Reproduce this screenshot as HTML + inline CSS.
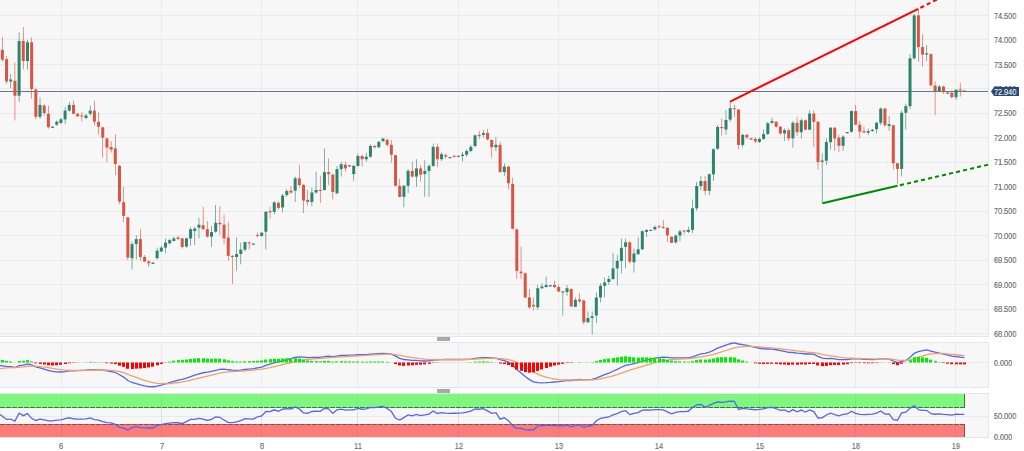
<!DOCTYPE html><html><head><meta charset="utf-8"><style>
html,body{margin:0;padding:0;background:#fff;width:1024px;height:451px;overflow:hidden}
#c{position:relative;width:1024px;height:451px;font-family:"Liberation Sans",sans-serif}
.l{position:absolute;font-size:8.5px;line-height:8.5px;color:#636363;white-space:nowrap;transform:scaleX(0.86);transform-origin:0 0;will-change:transform;-webkit-text-stroke:0.15px #636363}
svg{position:absolute;left:0;top:0}
</style></head><body><div id="c">
<svg width="1024" height="451" viewBox="0 0 1024 451" shape-rendering="crispEdges"><rect x="0" y="0" width="1024" height="451" fill="#ffffff"/>
<rect x="0" y="0" width="988" height="336" fill="#f7f7f7"/>
<rect x="0" y="342" width="988" height="45" fill="#f7f7f7"/>
<rect x="0" y="393" width="988" height="44" fill="#f7f7f7"/>
<rect x="61" y="0" width="1" height="336" fill="#eaeaea"/>
<rect x="161" y="0" width="1" height="336" fill="#eaeaea"/>
<rect x="261" y="0" width="1" height="336" fill="#eaeaea"/>
<rect x="357" y="0" width="1" height="336" fill="#eaeaea"/>
<rect x="458" y="0" width="1" height="336" fill="#eaeaea"/>
<rect x="558" y="0" width="1" height="336" fill="#eaeaea"/>
<rect x="658" y="0" width="1" height="336" fill="#eaeaea"/>
<rect x="759" y="0" width="1" height="336" fill="#eaeaea"/>
<rect x="855" y="0" width="1" height="336" fill="#eaeaea"/>
<rect x="955" y="0" width="1" height="336" fill="#eaeaea"/>
<rect x="61" y="342" width="1" height="45" fill="#eaeaea"/>
<rect x="161" y="342" width="1" height="45" fill="#eaeaea"/>
<rect x="261" y="342" width="1" height="45" fill="#eaeaea"/>
<rect x="357" y="342" width="1" height="45" fill="#eaeaea"/>
<rect x="458" y="342" width="1" height="45" fill="#eaeaea"/>
<rect x="558" y="342" width="1" height="45" fill="#eaeaea"/>
<rect x="658" y="342" width="1" height="45" fill="#eaeaea"/>
<rect x="759" y="342" width="1" height="45" fill="#eaeaea"/>
<rect x="855" y="342" width="1" height="45" fill="#eaeaea"/>
<rect x="955" y="342" width="1" height="45" fill="#eaeaea"/>
<rect x="61" y="393" width="1" height="44" fill="#eaeaea"/>
<rect x="161" y="393" width="1" height="44" fill="#eaeaea"/>
<rect x="261" y="393" width="1" height="44" fill="#eaeaea"/>
<rect x="357" y="393" width="1" height="44" fill="#eaeaea"/>
<rect x="458" y="393" width="1" height="44" fill="#eaeaea"/>
<rect x="558" y="393" width="1" height="44" fill="#eaeaea"/>
<rect x="658" y="393" width="1" height="44" fill="#eaeaea"/>
<rect x="759" y="393" width="1" height="44" fill="#eaeaea"/>
<rect x="855" y="393" width="1" height="44" fill="#eaeaea"/>
<rect x="955" y="393" width="1" height="44" fill="#eaeaea"/>
<rect x="0" y="15" width="988" height="1" fill="#eaeaea"/>
<rect x="0" y="39" width="988" height="1" fill="#eaeaea"/>
<rect x="0" y="64" width="988" height="1" fill="#eaeaea"/>
<rect x="0" y="88" width="988" height="1" fill="#eaeaea"/>
<rect x="0" y="113" width="988" height="1" fill="#eaeaea"/>
<rect x="0" y="137" width="988" height="1" fill="#eaeaea"/>
<rect x="0" y="162" width="988" height="1" fill="#eaeaea"/>
<rect x="0" y="186" width="988" height="1" fill="#eaeaea"/>
<rect x="0" y="211" width="988" height="1" fill="#eaeaea"/>
<rect x="0" y="235" width="988" height="1" fill="#eaeaea"/>
<rect x="0" y="260" width="988" height="1" fill="#eaeaea"/>
<rect x="0" y="284" width="988" height="1" fill="#eaeaea"/>
<rect x="0" y="309" width="988" height="1" fill="#eaeaea"/>
<rect x="0" y="333" width="988" height="1" fill="#eaeaea"/>
<rect x="0" y="362" width="988" height="1" fill="#eaeaea"/>
<rect x="0" y="416" width="988" height="1" fill="#eaeaea"/>
<rect x="0" y="336" width="989" height="1" fill="#e3e6ee"/>
<rect x="988" y="0" width="1" height="337" fill="#e3e6ee"/>
<rect x="0" y="342" width="989" height="1" fill="#e3e6ee"/>
<rect x="0" y="387" width="989" height="1" fill="#e3e6ee"/>
<rect x="988" y="342" width="1" height="46" fill="#e3e6ee"/>
<rect x="0" y="393" width="989" height="1" fill="#e3e6ee"/>
<rect x="0" y="437" width="989" height="1" fill="#e3e6ee"/>
<rect x="988" y="393" width="1" height="45" fill="#e3e6ee"/>
<rect x="437" y="337" width="13" height="4" rx="1" fill="#a9a9a9"/>
<rect x="437" y="389" width="13" height="4" rx="1" fill="#a9a9a9"/>
<rect x="0" y="91" width="988" height="1" fill="#62769a"/>
<g shape-rendering="geometricPrecision"><rect x="2.07" y="36.9" width="0.6" height="24.8" fill="#d85543"/><rect x="0.87" y="49.8" width="3" height="9.9" fill="#d85543"/><rect x="6.25" y="56.0" width="0.6" height="28.0" fill="#d85543"/><rect x="5.05" y="59.2" width="3" height="22.3" fill="#d85543"/><rect x="10.44" y="74.0" width="0.6" height="14.2" fill="#2d836c"/><rect x="9.24" y="79.5" width="3" height="2.0" fill="#2d836c"/><rect x="14.62" y="62.7" width="0.6" height="57.8" fill="#d85543"/><rect x="13.42" y="80.8" width="3" height="14.9" fill="#d85543"/><rect x="18.80" y="32.4" width="0.6" height="69.5" fill="#2d836c"/><rect x="17.60" y="41.1" width="3" height="54.6" fill="#2d836c"/><rect x="22.98" y="27.0" width="0.6" height="42.6" fill="#d85543"/><rect x="21.78" y="41.0" width="3" height="20.0" fill="#d85543"/><rect x="27.17" y="39.9" width="0.6" height="29.7" fill="#2d836c"/><rect x="25.97" y="42.3" width="3" height="18.7" fill="#2d836c"/><rect x="31.35" y="37.4" width="0.6" height="61.5" fill="#d85543"/><rect x="30.15" y="42.3" width="3" height="46.7" fill="#d85543"/><rect x="35.53" y="88.2" width="0.6" height="31.1" fill="#d85543"/><rect x="34.33" y="89.5" width="3" height="27.3" fill="#d85543"/><rect x="39.71" y="97.4" width="0.6" height="21.4" fill="#2d836c"/><rect x="38.51" y="104.9" width="3" height="11.9" fill="#2d836c"/><rect x="43.90" y="103.9" width="0.6" height="11.6" fill="#d85543"/><rect x="42.70" y="105.6" width="3" height="7.4" fill="#d85543"/><rect x="48.08" y="105.6" width="0.6" height="23.1" fill="#d85543"/><rect x="46.88" y="113.8" width="3" height="13.4" fill="#d85543"/><rect x="52.26" y="126.5" width="0.6" height="1.5" fill="#555555"/><rect x="51.06" y="126.7" width="3" height="1.0" fill="#555555"/><rect x="56.45" y="120.5" width="0.6" height="5.5" fill="#2d836c"/><rect x="55.25" y="121.7" width="3" height="3.0" fill="#2d836c"/><rect x="60.63" y="118.0" width="0.6" height="6.2" fill="#2d836c"/><rect x="59.43" y="119.3" width="3" height="3.7" fill="#2d836c"/><rect x="64.81" y="106.8" width="0.6" height="17.4" fill="#2d836c"/><rect x="63.61" y="110.6" width="3" height="8.7" fill="#2d836c"/><rect x="68.99" y="101.9" width="0.6" height="9.9" fill="#2d836c"/><rect x="67.79" y="104.9" width="3" height="5.7" fill="#2d836c"/><rect x="73.18" y="100.6" width="0.6" height="13.7" fill="#d85543"/><rect x="71.98" y="104.9" width="3" height="8.9" fill="#d85543"/><rect x="77.36" y="113.0" width="0.6" height="4.0" fill="#d85543"/><rect x="76.16" y="113.8" width="3" height="2.5" fill="#d85543"/><rect x="81.54" y="112.3" width="0.6" height="9.4" fill="#d85543"/><rect x="80.34" y="115.5" width="3" height="1.0" fill="#d85543"/><rect x="85.72" y="113.8" width="0.6" height="5.5" fill="#2d836c"/><rect x="84.52" y="115.5" width="3" height="2.5" fill="#2d836c"/><rect x="89.91" y="105.6" width="0.6" height="9.9" fill="#2d836c"/><rect x="88.71" y="110.6" width="3" height="3.2" fill="#2d836c"/><rect x="94.09" y="100.6" width="0.6" height="24.9" fill="#d85543"/><rect x="92.89" y="110.6" width="3" height="11.1" fill="#d85543"/><rect x="98.27" y="112.4" width="0.6" height="22.3" fill="#d85543"/><rect x="97.07" y="121.8" width="3" height="5.0" fill="#d85543"/><rect x="102.45" y="126.8" width="0.6" height="30.8" fill="#d85543"/><rect x="101.25" y="127.3" width="3" height="10.4" fill="#d85543"/><rect x="106.64" y="137.2" width="0.6" height="24.8" fill="#d85543"/><rect x="105.44" y="138.5" width="3" height="9.1" fill="#d85543"/><rect x="110.82" y="141.0" width="0.6" height="11.6" fill="#d85543"/><rect x="109.62" y="147.1" width="3" height="2.5" fill="#d85543"/><rect x="115.00" y="134.2" width="0.6" height="40.8" fill="#d85543"/><rect x="113.80" y="148.4" width="3" height="15.6" fill="#d85543"/><rect x="119.19" y="165.0" width="0.6" height="39.0" fill="#d85543"/><rect x="117.99" y="165.8" width="3" height="35.7" fill="#d85543"/><rect x="123.37" y="186.8" width="0.6" height="35.5" fill="#d85543"/><rect x="122.17" y="202.2" width="3" height="13.8" fill="#d85543"/><rect x="127.55" y="216.8" width="0.6" height="43.2" fill="#d85543"/><rect x="126.35" y="217.3" width="3" height="40.2" fill="#d85543"/><rect x="131.73" y="241.6" width="0.6" height="27.8" fill="#2d836c"/><rect x="130.53" y="244.1" width="3" height="14.1" fill="#2d836c"/><rect x="135.92" y="235.2" width="0.6" height="24.3" fill="#2d836c"/><rect x="134.72" y="239.1" width="3" height="5.0" fill="#2d836c"/><rect x="140.10" y="229.2" width="0.6" height="31.5" fill="#d85543"/><rect x="138.90" y="239.1" width="3" height="17.9" fill="#d85543"/><rect x="144.28" y="255.0" width="0.6" height="7.0" fill="#d85543"/><rect x="143.08" y="257.0" width="3" height="4.5" fill="#d85543"/><rect x="148.46" y="260.0" width="0.6" height="7.0" fill="#d85543"/><rect x="147.26" y="261.5" width="3" height="1.7" fill="#d85543"/><rect x="152.65" y="262.0" width="0.6" height="2.0" fill="#555555"/><rect x="151.45" y="262.7" width="3" height="1.0" fill="#555555"/><rect x="156.83" y="247.6" width="0.6" height="11.9" fill="#2d836c"/><rect x="155.63" y="250.8" width="3" height="7.4" fill="#2d836c"/><rect x="161.01" y="245.8" width="0.6" height="6.2" fill="#2d836c"/><rect x="159.81" y="247.6" width="3" height="3.9" fill="#2d836c"/><rect x="165.20" y="238.4" width="0.6" height="14.9" fill="#2d836c"/><rect x="164.00" y="242.6" width="3" height="5.0" fill="#2d836c"/><rect x="169.38" y="238.4" width="0.6" height="6.2" fill="#2d836c"/><rect x="168.18" y="240.1" width="3" height="3.2" fill="#2d836c"/><rect x="173.56" y="236.6" width="0.6" height="5.0" fill="#2d836c"/><rect x="172.36" y="238.4" width="3" height="2.5" fill="#2d836c"/><rect x="177.74" y="235.9" width="0.6" height="3.7" fill="#d85543"/><rect x="176.54" y="237.6" width="3" height="1.5" fill="#d85543"/><rect x="181.93" y="237.6" width="0.6" height="10.7" fill="#d85543"/><rect x="180.73" y="238.4" width="3" height="8.6" fill="#d85543"/><rect x="186.11" y="237.6" width="0.6" height="10.0" fill="#2d836c"/><rect x="184.91" y="238.4" width="3" height="8.2" fill="#2d836c"/><rect x="190.29" y="227.2" width="0.6" height="18.6" fill="#2d836c"/><rect x="189.09" y="229.2" width="3" height="9.2" fill="#2d836c"/><rect x="194.47" y="226.7" width="0.6" height="18.4" fill="#2d836c"/><rect x="193.27" y="228.5" width="3" height="2.5" fill="#2d836c"/><rect x="198.66" y="217.8" width="0.6" height="20.6" fill="#2d836c"/><rect x="197.46" y="224.7" width="3" height="3.0" fill="#2d836c"/><rect x="202.84" y="206.9" width="0.6" height="23.3" fill="#d85543"/><rect x="201.64" y="225.2" width="3" height="4.0" fill="#d85543"/><rect x="207.02" y="221.0" width="0.6" height="16.6" fill="#d85543"/><rect x="205.82" y="229.2" width="3" height="7.4" fill="#d85543"/><rect x="211.20" y="226.0" width="0.6" height="21.0" fill="#2d836c"/><rect x="210.00" y="232.2" width="3" height="4.4" fill="#2d836c"/><rect x="215.39" y="204.9" width="0.6" height="27.8" fill="#2d836c"/><rect x="214.19" y="222.8" width="3" height="8.9" fill="#2d836c"/><rect x="219.57" y="206.1" width="0.6" height="28.6" fill="#d85543"/><rect x="218.37" y="222.8" width="3" height="1.4" fill="#d85543"/><rect x="223.75" y="214.3" width="0.6" height="29.8" fill="#d85543"/><rect x="222.55" y="224.7" width="3" height="13.7" fill="#d85543"/><rect x="227.94" y="221.8" width="0.6" height="38.9" fill="#d85543"/><rect x="226.74" y="237.6" width="3" height="18.2" fill="#d85543"/><rect x="232.12" y="255.0" width="0.6" height="28.8" fill="#d85543"/><rect x="230.92" y="255.8" width="3" height="1.2" fill="#d85543"/><rect x="236.30" y="237.6" width="0.6" height="33.0" fill="#2d836c"/><rect x="235.10" y="254.0" width="3" height="3.0" fill="#2d836c"/><rect x="240.48" y="242.6" width="0.6" height="21.8" fill="#2d836c"/><rect x="239.28" y="249.6" width="3" height="4.4" fill="#2d836c"/><rect x="244.67" y="241.6" width="0.6" height="9.9" fill="#2d836c"/><rect x="243.47" y="242.1" width="3" height="7.5" fill="#2d836c"/><rect x="248.85" y="241.6" width="0.6" height="8.0" fill="#d85543"/><rect x="247.65" y="242.4" width="3" height="1.0" fill="#d85543"/><rect x="253.03" y="243.5" width="0.6" height="1.3" fill="#555555"/><rect x="251.83" y="243.6" width="3" height="1.0" fill="#555555"/><rect x="257.21" y="232.7" width="0.6" height="4.4" fill="#d85543"/><rect x="256.01" y="235.1" width="3" height="1.0" fill="#d85543"/><rect x="261.40" y="232.2" width="0.6" height="4.4" fill="#2d836c"/><rect x="260.20" y="232.7" width="3" height="3.2" fill="#2d836c"/><rect x="265.58" y="211.1" width="0.6" height="38.5" fill="#2d836c"/><rect x="264.38" y="211.8" width="3" height="19.9" fill="#2d836c"/><rect x="269.76" y="206.9" width="0.6" height="11.6" fill="#d85543"/><rect x="268.56" y="211.1" width="3" height="1.2" fill="#d85543"/><rect x="273.95" y="201.2" width="0.6" height="13.1" fill="#2d836c"/><rect x="272.75" y="202.4" width="3" height="9.4" fill="#2d836c"/><rect x="278.13" y="201.2" width="0.6" height="8.7" fill="#d85543"/><rect x="276.93" y="202.9" width="3" height="5.0" fill="#d85543"/><rect x="282.31" y="193.7" width="0.6" height="18.6" fill="#2d836c"/><rect x="281.11" y="195.5" width="3" height="11.9" fill="#2d836c"/><rect x="286.49" y="189.0" width="0.6" height="8.0" fill="#2d836c"/><rect x="285.29" y="191.0" width="3" height="4.0" fill="#2d836c"/><rect x="290.68" y="185.8" width="0.6" height="8.2" fill="#d85543"/><rect x="289.48" y="190.7" width="3" height="1.8" fill="#d85543"/><rect x="294.86" y="176.6" width="0.6" height="25.3" fill="#2d836c"/><rect x="293.66" y="178.3" width="3" height="12.4" fill="#2d836c"/><rect x="299.04" y="165.2" width="0.6" height="22.3" fill="#d85543"/><rect x="297.84" y="178.3" width="3" height="6.7" fill="#d85543"/><rect x="303.22" y="184.0" width="0.6" height="29.0" fill="#d85543"/><rect x="302.02" y="185.0" width="3" height="15.6" fill="#d85543"/><rect x="307.41" y="189.5" width="0.6" height="16.1" fill="#d85543"/><rect x="306.21" y="199.9" width="3" height="2.0" fill="#d85543"/><rect x="311.59" y="187.5" width="0.6" height="18.9" fill="#2d836c"/><rect x="310.39" y="192.5" width="3" height="9.4" fill="#2d836c"/><rect x="315.77" y="171.6" width="0.6" height="22.4" fill="#2d836c"/><rect x="314.57" y="190.0" width="3" height="2.5" fill="#2d836c"/><rect x="319.96" y="175.8" width="0.6" height="27.3" fill="#d85543"/><rect x="318.76" y="190.0" width="3" height="1.0" fill="#d85543"/><rect x="324.14" y="148.5" width="0.6" height="42.2" fill="#2d836c"/><rect x="322.94" y="172.1" width="3" height="17.9" fill="#2d836c"/><rect x="328.32" y="158.5" width="0.6" height="26.5" fill="#d85543"/><rect x="327.12" y="172.1" width="3" height="2.0" fill="#d85543"/><rect x="332.50" y="174.1" width="0.6" height="25.3" fill="#d85543"/><rect x="331.30" y="174.6" width="3" height="17.4" fill="#d85543"/><rect x="336.69" y="165.9" width="0.6" height="28.5" fill="#2d836c"/><rect x="335.49" y="169.1" width="3" height="24.1" fill="#2d836c"/><rect x="340.87" y="161.7" width="0.6" height="14.9" fill="#2d836c"/><rect x="339.67" y="164.2" width="3" height="4.9" fill="#2d836c"/><rect x="345.05" y="161.7" width="0.6" height="9.9" fill="#d85543"/><rect x="343.85" y="164.7" width="3" height="3.7" fill="#d85543"/><rect x="349.23" y="165.2" width="0.6" height="1.4" fill="#555555"/><rect x="348.03" y="165.4" width="3" height="1.0" fill="#555555"/><rect x="353.42" y="164.7" width="0.6" height="16.1" fill="#2d836c"/><rect x="352.22" y="165.9" width="3" height="8.2" fill="#2d836c"/><rect x="357.60" y="153.5" width="0.6" height="13.1" fill="#2d836c"/><rect x="356.40" y="156.0" width="3" height="9.9" fill="#2d836c"/><rect x="361.78" y="154.7" width="0.6" height="11.9" fill="#d85543"/><rect x="360.58" y="156.0" width="3" height="3.2" fill="#d85543"/><rect x="365.96" y="152.8" width="0.6" height="8.9" fill="#2d836c"/><rect x="364.76" y="156.7" width="3" height="2.5" fill="#2d836c"/><rect x="370.15" y="144.3" width="0.6" height="13.4" fill="#2d836c"/><rect x="368.95" y="146.0" width="3" height="10.7" fill="#2d836c"/><rect x="374.33" y="144.8" width="0.6" height="3.0" fill="#d85543"/><rect x="373.13" y="146.0" width="3" height="1.3" fill="#d85543"/><rect x="378.51" y="141.1" width="0.6" height="6.7" fill="#2d836c"/><rect x="377.31" y="141.8" width="3" height="5.5" fill="#2d836c"/><rect x="382.70" y="137.9" width="0.6" height="4.1" fill="#2d836c"/><rect x="381.50" y="138.6" width="3" height="2.5" fill="#2d836c"/><rect x="386.88" y="138.6" width="0.6" height="8.2" fill="#d85543"/><rect x="385.68" y="139.9" width="3" height="4.9" fill="#d85543"/><rect x="391.06" y="139.9" width="0.6" height="22.8" fill="#d85543"/><rect x="389.86" y="144.8" width="3" height="9.9" fill="#d85543"/><rect x="395.24" y="154.7" width="0.6" height="31.8" fill="#d85543"/><rect x="394.04" y="155.2" width="3" height="30.6" fill="#d85543"/><rect x="399.43" y="179.0" width="0.6" height="18.4" fill="#d85543"/><rect x="398.23" y="185.8" width="3" height="11.1" fill="#d85543"/><rect x="403.61" y="185.0" width="0.6" height="22.3" fill="#2d836c"/><rect x="402.41" y="185.8" width="3" height="11.1" fill="#2d836c"/><rect x="407.79" y="169.1" width="0.6" height="24.1" fill="#2d836c"/><rect x="406.59" y="170.9" width="3" height="14.9" fill="#2d836c"/><rect x="411.97" y="161.7" width="0.6" height="15.9" fill="#d85543"/><rect x="410.77" y="170.9" width="3" height="5.7" fill="#d85543"/><rect x="416.16" y="159.2" width="0.6" height="27.8" fill="#2d836c"/><rect x="414.96" y="168.4" width="3" height="8.2" fill="#2d836c"/><rect x="420.34" y="165.2" width="0.6" height="16.3" fill="#d85543"/><rect x="419.14" y="168.4" width="3" height="6.2" fill="#d85543"/><rect x="424.52" y="160.2" width="0.6" height="36.7" fill="#2d836c"/><rect x="423.32" y="170.9" width="3" height="3.2" fill="#2d836c"/><rect x="428.71" y="164.2" width="0.6" height="32.7" fill="#2d836c"/><rect x="427.51" y="165.9" width="3" height="5.0" fill="#2d836c"/><rect x="432.89" y="143.6" width="0.6" height="23.0" fill="#2d836c"/><rect x="431.69" y="146.8" width="3" height="19.1" fill="#2d836c"/><rect x="437.07" y="143.6" width="0.6" height="23.5" fill="#d85543"/><rect x="435.87" y="146.8" width="3" height="12.4" fill="#d85543"/><rect x="441.25" y="152.3" width="0.6" height="8.6" fill="#2d836c"/><rect x="440.05" y="154.2" width="3" height="5.0" fill="#2d836c"/><rect x="445.44" y="153.5" width="0.6" height="5.0" fill="#d85543"/><rect x="444.24" y="155.2" width="3" height="1.5" fill="#d85543"/><rect x="449.62" y="157.0" width="0.6" height="1.3" fill="#555555"/><rect x="448.42" y="157.2" width="3" height="1.0" fill="#555555"/><rect x="453.80" y="155.2" width="0.6" height="2.5" fill="#d85543"/><rect x="452.60" y="155.8" width="3" height="1.0" fill="#d85543"/><rect x="457.98" y="155.5" width="0.6" height="1.7" fill="#2d836c"/><rect x="456.78" y="155.8" width="3" height="1.0" fill="#2d836c"/><rect x="462.17" y="151.8" width="0.6" height="9.9" fill="#2d836c"/><rect x="460.97" y="154.7" width="3" height="1.3" fill="#2d836c"/><rect x="466.35" y="149.3" width="0.6" height="7.4" fill="#2d836c"/><rect x="465.15" y="151.0" width="3" height="3.7" fill="#2d836c"/><rect x="470.53" y="144.8" width="0.6" height="7.5" fill="#2d836c"/><rect x="469.33" y="146.8" width="3" height="4.2" fill="#2d836c"/><rect x="474.72" y="134.4" width="0.6" height="12.9" fill="#2d836c"/><rect x="473.52" y="135.4" width="3" height="10.6" fill="#2d836c"/><rect x="478.90" y="131.2" width="0.6" height="8.2" fill="#d85543"/><rect x="477.70" y="134.9" width="3" height="1.2" fill="#d85543"/><rect x="483.08" y="129.9" width="0.6" height="8.0" fill="#2d836c"/><rect x="481.88" y="132.9" width="3" height="2.0" fill="#2d836c"/><rect x="487.26" y="128.7" width="0.6" height="11.6" fill="#d85543"/><rect x="486.06" y="132.9" width="3" height="6.5" fill="#d85543"/><rect x="491.45" y="139.4" width="0.6" height="18.3" fill="#d85543"/><rect x="490.25" y="139.9" width="3" height="7.4" fill="#d85543"/><rect x="495.63" y="136.9" width="0.6" height="14.1" fill="#2d836c"/><rect x="494.43" y="144.8" width="3" height="2.5" fill="#2d836c"/><rect x="499.81" y="141.8" width="0.6" height="30.8" fill="#d85543"/><rect x="498.61" y="144.8" width="3" height="27.3" fill="#d85543"/><rect x="503.99" y="163.4" width="0.6" height="12.4" fill="#2d836c"/><rect x="502.79" y="166.6" width="3" height="5.5" fill="#2d836c"/><rect x="508.18" y="165.9" width="0.6" height="23.6" fill="#d85543"/><rect x="506.98" y="166.6" width="3" height="16.7" fill="#d85543"/><rect x="512.36" y="177.6" width="0.6" height="51.9" fill="#d85543"/><rect x="511.16" y="184.0" width="3" height="44.7" fill="#d85543"/><rect x="516.54" y="228.7" width="0.6" height="50.3" fill="#d85543"/><rect x="515.34" y="229.4" width="3" height="41.5" fill="#d85543"/><rect x="520.72" y="246.8" width="0.6" height="32.2" fill="#d85543"/><rect x="519.52" y="271.6" width="3" height="1.7" fill="#d85543"/><rect x="524.91" y="272.6" width="0.6" height="25.6" fill="#d85543"/><rect x="523.71" y="273.3" width="3" height="24.1" fill="#d85543"/><rect x="529.09" y="289.0" width="0.6" height="19.8" fill="#d85543"/><rect x="527.89" y="297.4" width="3" height="9.9" fill="#d85543"/><rect x="533.27" y="297.4" width="0.6" height="13.2" fill="#d85543"/><rect x="532.07" y="304.9" width="3" height="1.5" fill="#d85543"/><rect x="537.46" y="285.0" width="0.6" height="24.8" fill="#2d836c"/><rect x="536.26" y="288.2" width="3" height="19.1" fill="#2d836c"/><rect x="541.64" y="283.3" width="0.6" height="5.7" fill="#2d836c"/><rect x="540.44" y="286.5" width="3" height="1.7" fill="#2d836c"/><rect x="545.82" y="276.6" width="0.6" height="10.9" fill="#2d836c"/><rect x="544.62" y="285.0" width="3" height="2.0" fill="#2d836c"/><rect x="550.00" y="285.0" width="0.6" height="1.5" fill="#555555"/><rect x="548.80" y="285.3" width="3" height="1.0" fill="#555555"/><rect x="554.19" y="280.8" width="0.6" height="7.4" fill="#d85543"/><rect x="552.99" y="285.0" width="3" height="2.0" fill="#d85543"/><rect x="558.37" y="285.0" width="0.6" height="7.0" fill="#d85543"/><rect x="557.17" y="287.0" width="3" height="4.5" fill="#d85543"/><rect x="562.55" y="290.7" width="0.6" height="24.8" fill="#2d836c"/><rect x="561.35" y="291.5" width="3" height="1.0" fill="#2d836c"/><rect x="566.73" y="285.0" width="0.6" height="10.7" fill="#2d836c"/><rect x="565.53" y="288.2" width="3" height="3.8" fill="#2d836c"/><rect x="570.92" y="288.2" width="0.6" height="18.6" fill="#d85543"/><rect x="569.72" y="289.0" width="3" height="17.4" fill="#d85543"/><rect x="575.10" y="297.4" width="0.6" height="9.6" fill="#2d836c"/><rect x="573.90" y="299.9" width="3" height="6.9" fill="#2d836c"/><rect x="579.28" y="293.2" width="0.6" height="9.9" fill="#d85543"/><rect x="578.08" y="299.4" width="3" height="2.0" fill="#d85543"/><rect x="583.47" y="299.4" width="0.6" height="24.8" fill="#d85543"/><rect x="582.27" y="300.6" width="3" height="21.6" fill="#d85543"/><rect x="587.65" y="311.3" width="0.6" height="11.7" fill="#2d836c"/><rect x="586.45" y="318.0" width="3" height="4.2" fill="#2d836c"/><rect x="591.83" y="311.3" width="0.6" height="23.2" fill="#2d836c"/><rect x="590.63" y="316.3" width="3" height="1.7" fill="#2d836c"/><rect x="596.01" y="292.5" width="0.6" height="30.5" fill="#2d836c"/><rect x="594.81" y="297.4" width="3" height="18.1" fill="#2d836c"/><rect x="600.20" y="283.3" width="0.6" height="19.1" fill="#2d836c"/><rect x="599.00" y="285.8" width="3" height="11.6" fill="#2d836c"/><rect x="604.38" y="277.6" width="0.6" height="19.8" fill="#2d836c"/><rect x="603.18" y="282.5" width="3" height="3.3" fill="#2d836c"/><rect x="608.56" y="275.8" width="0.6" height="9.2" fill="#2d836c"/><rect x="607.36" y="279.0" width="3" height="3.0" fill="#2d836c"/><rect x="612.74" y="252.8" width="0.6" height="27.2" fill="#2d836c"/><rect x="611.54" y="268.4" width="3" height="10.6" fill="#2d836c"/><rect x="616.93" y="254.7" width="0.6" height="31.1" fill="#2d836c"/><rect x="615.73" y="260.9" width="3" height="7.5" fill="#2d836c"/><rect x="621.11" y="238.6" width="0.6" height="34.7" fill="#2d836c"/><rect x="619.91" y="247.8" width="3" height="13.1" fill="#2d836c"/><rect x="625.29" y="238.6" width="0.6" height="29.8" fill="#2d836c"/><rect x="624.09" y="242.3" width="3" height="4.5" fill="#2d836c"/><rect x="629.48" y="241.1" width="0.6" height="22.3" fill="#d85543"/><rect x="628.27" y="242.3" width="3" height="19.4" fill="#d85543"/><rect x="633.66" y="248.5" width="0.6" height="24.1" fill="#2d836c"/><rect x="632.46" y="253.5" width="3" height="8.7" fill="#2d836c"/><rect x="637.84" y="237.4" width="0.6" height="17.3" fill="#2d836c"/><rect x="636.64" y="249.3" width="3" height="4.9" fill="#2d836c"/><rect x="642.02" y="230.4" width="0.6" height="19.4" fill="#2d836c"/><rect x="640.82" y="231.2" width="3" height="18.1" fill="#2d836c"/><rect x="646.21" y="229.4" width="0.6" height="7.5" fill="#2d836c"/><rect x="645.01" y="229.9" width="3" height="2.0" fill="#2d836c"/><rect x="650.39" y="229.8" width="0.6" height="1.2" fill="#555555"/><rect x="649.19" y="229.9" width="3" height="1.0" fill="#555555"/><rect x="654.57" y="225.5" width="0.6" height="4.9" fill="#2d836c"/><rect x="653.37" y="226.9" width="3" height="2.5" fill="#2d836c"/><rect x="658.75" y="225.0" width="0.6" height="3.0" fill="#d85543"/><rect x="657.55" y="226.4" width="3" height="1.0" fill="#d85543"/><rect x="662.94" y="220.0" width="0.6" height="9.0" fill="#d85543"/><rect x="661.74" y="226.9" width="3" height="1.0" fill="#d85543"/><rect x="667.12" y="226.9" width="0.6" height="14.9" fill="#d85543"/><rect x="665.92" y="227.9" width="3" height="7.5" fill="#d85543"/><rect x="671.30" y="236.1" width="0.6" height="6.9" fill="#d85543"/><rect x="670.10" y="236.9" width="3" height="5.9" fill="#d85543"/><rect x="675.48" y="234.4" width="0.6" height="9.4" fill="#2d836c"/><rect x="674.28" y="235.6" width="3" height="6.7" fill="#2d836c"/><rect x="679.67" y="229.9" width="0.6" height="11.4" fill="#2d836c"/><rect x="678.47" y="231.4" width="3" height="4.2" fill="#2d836c"/><rect x="683.85" y="229.9" width="0.6" height="4.5" fill="#d85543"/><rect x="682.65" y="230.5" width="3" height="1.0" fill="#d85543"/><rect x="688.03" y="226.9" width="0.6" height="6.2" fill="#2d836c"/><rect x="686.83" y="229.9" width="3" height="2.0" fill="#2d836c"/><rect x="692.22" y="199.6" width="0.6" height="33.5" fill="#2d836c"/><rect x="691.02" y="208.3" width="3" height="21.6" fill="#2d836c"/><rect x="696.40" y="181.8" width="0.6" height="29.0" fill="#2d836c"/><rect x="695.20" y="186.0" width="3" height="22.3" fill="#2d836c"/><rect x="700.58" y="176.0" width="0.6" height="14.2" fill="#2d836c"/><rect x="699.38" y="181.0" width="3" height="5.0" fill="#2d836c"/><rect x="704.76" y="176.0" width="0.6" height="19.2" fill="#d85543"/><rect x="703.56" y="181.0" width="3" height="9.9" fill="#d85543"/><rect x="708.95" y="173.6" width="0.6" height="21.6" fill="#2d836c"/><rect x="707.75" y="174.3" width="3" height="16.6" fill="#2d836c"/><rect x="713.13" y="148.1" width="0.6" height="32.9" fill="#2d836c"/><rect x="711.93" y="149.3" width="3" height="25.0" fill="#2d836c"/><rect x="717.31" y="125.0" width="0.6" height="24.8" fill="#2d836c"/><rect x="716.11" y="127.0" width="3" height="21.8" fill="#2d836c"/><rect x="721.49" y="118.3" width="0.6" height="17.4" fill="#d85543"/><rect x="720.29" y="127.0" width="3" height="1.2" fill="#d85543"/><rect x="725.68" y="110.1" width="0.6" height="24.8" fill="#2d836c"/><rect x="724.48" y="120.0" width="3" height="9.5" fill="#2d836c"/><rect x="729.86" y="102.3" width="0.6" height="19.5" fill="#2d836c"/><rect x="728.66" y="108.2" width="3" height="11.4" fill="#2d836c"/><rect x="734.04" y="104.7" width="0.6" height="12.3" fill="#d85543"/><rect x="732.84" y="108.2" width="3" height="1.0" fill="#d85543"/><rect x="738.23" y="109.1" width="0.6" height="40.2" fill="#d85543"/><rect x="737.03" y="109.6" width="3" height="35.3" fill="#d85543"/><rect x="742.41" y="134.0" width="0.6" height="13.3" fill="#2d836c"/><rect x="741.21" y="134.9" width="3" height="10.0" fill="#2d836c"/><rect x="746.59" y="134.0" width="0.6" height="5.4" fill="#d85543"/><rect x="745.39" y="134.9" width="3" height="2.5" fill="#d85543"/><rect x="750.77" y="138.3" width="0.6" height="1.2" fill="#555555"/><rect x="749.57" y="138.4" width="3" height="1.0" fill="#555555"/><rect x="754.96" y="137.4" width="0.6" height="5.7" fill="#d85543"/><rect x="753.76" y="138.9" width="3" height="2.5" fill="#d85543"/><rect x="759.14" y="137.4" width="0.6" height="5.6" fill="#2d836c"/><rect x="757.94" y="138.9" width="3" height="3.0" fill="#2d836c"/><rect x="763.32" y="129.5" width="0.6" height="10.4" fill="#2d836c"/><rect x="762.12" y="134.0" width="3" height="4.9" fill="#2d836c"/><rect x="767.50" y="122.0" width="0.6" height="13.0" fill="#2d836c"/><rect x="766.30" y="123.3" width="3" height="10.7" fill="#2d836c"/><rect x="771.69" y="117.8" width="0.6" height="6.4" fill="#2d836c"/><rect x="770.49" y="121.0" width="3" height="1.8" fill="#2d836c"/><rect x="775.87" y="121.0" width="0.6" height="6.7" fill="#d85543"/><rect x="774.67" y="121.8" width="3" height="4.9" fill="#d85543"/><rect x="780.05" y="126.0" width="0.6" height="9.2" fill="#d85543"/><rect x="778.85" y="126.7" width="3" height="6.7" fill="#d85543"/><rect x="784.23" y="128.5" width="0.6" height="12.4" fill="#2d836c"/><rect x="783.03" y="130.2" width="3" height="3.2" fill="#2d836c"/><rect x="788.42" y="128.5" width="0.6" height="12.4" fill="#d85543"/><rect x="787.22" y="130.2" width="3" height="8.2" fill="#d85543"/><rect x="792.60" y="121.0" width="0.6" height="26.6" fill="#2d836c"/><rect x="791.40" y="122.8" width="3" height="15.6" fill="#2d836c"/><rect x="796.78" y="116.8" width="0.6" height="19.1" fill="#d85543"/><rect x="795.58" y="122.8" width="3" height="9.4" fill="#d85543"/><rect x="800.97" y="118.5" width="0.6" height="19.9" fill="#2d836c"/><rect x="799.77" y="120.3" width="3" height="11.9" fill="#2d836c"/><rect x="805.15" y="119.3" width="0.6" height="10.9" fill="#d85543"/><rect x="803.95" y="120.3" width="3" height="9.4" fill="#d85543"/><rect x="809.33" y="110.3" width="0.6" height="19.9" fill="#2d836c"/><rect x="808.13" y="113.6" width="3" height="16.1" fill="#2d836c"/><rect x="813.51" y="110.3" width="0.6" height="36.8" fill="#d85543"/><rect x="812.31" y="113.6" width="3" height="8.2" fill="#d85543"/><rect x="817.70" y="121.0" width="0.6" height="48.5" fill="#d85543"/><rect x="816.50" y="121.8" width="3" height="40.2" fill="#d85543"/><rect x="821.88" y="153.5" width="0.6" height="49.8" fill="#2d836c"/><rect x="820.68" y="160.5" width="3" height="1.3" fill="#2d836c"/><rect x="826.06" y="138.4" width="0.6" height="26.5" fill="#2d836c"/><rect x="824.86" y="142.1" width="3" height="18.6" fill="#2d836c"/><rect x="830.24" y="127.2" width="0.6" height="22.4" fill="#2d836c"/><rect x="829.04" y="127.7" width="3" height="14.4" fill="#2d836c"/><rect x="834.43" y="127.2" width="0.6" height="23.6" fill="#d85543"/><rect x="833.23" y="127.7" width="3" height="10.7" fill="#d85543"/><rect x="838.61" y="134.7" width="0.6" height="17.3" fill="#d85543"/><rect x="837.41" y="137.6" width="3" height="8.2" fill="#d85543"/><rect x="842.79" y="135.2" width="0.6" height="15.6" fill="#2d836c"/><rect x="841.59" y="136.7" width="3" height="9.1" fill="#2d836c"/><rect x="846.98" y="132.0" width="0.6" height="1.4" fill="#555555"/><rect x="845.78" y="132.2" width="3" height="1.0" fill="#555555"/><rect x="851.16" y="110.3" width="0.6" height="22.4" fill="#2d836c"/><rect x="849.96" y="111.1" width="3" height="20.6" fill="#2d836c"/><rect x="855.34" y="104.9" width="0.6" height="20.3" fill="#d85543"/><rect x="854.14" y="111.1" width="3" height="13.6" fill="#d85543"/><rect x="859.52" y="121.0" width="0.6" height="17.4" fill="#d85543"/><rect x="858.32" y="124.7" width="3" height="7.0" fill="#d85543"/><rect x="863.71" y="126.7" width="0.6" height="6.3" fill="#d85543"/><rect x="862.51" y="131.2" width="3" height="1.3" fill="#d85543"/><rect x="867.89" y="128.5" width="0.6" height="6.7" fill="#2d836c"/><rect x="866.69" y="131.0" width="3" height="1.7" fill="#2d836c"/><rect x="872.07" y="129.2" width="0.6" height="2.8" fill="#2d836c"/><rect x="870.87" y="129.7" width="3" height="1.3" fill="#2d836c"/><rect x="876.25" y="121.8" width="0.6" height="11.6" fill="#2d836c"/><rect x="875.05" y="122.8" width="3" height="6.4" fill="#2d836c"/><rect x="880.44" y="107.4" width="0.6" height="17.8" fill="#2d836c"/><rect x="879.24" y="108.6" width="3" height="14.2" fill="#2d836c"/><rect x="884.62" y="107.9" width="0.6" height="19.3" fill="#d85543"/><rect x="883.42" y="108.6" width="3" height="16.6" fill="#d85543"/><rect x="888.80" y="116.0" width="0.6" height="14.9" fill="#2d836c"/><rect x="887.60" y="124.2" width="3" height="1.8" fill="#2d836c"/><rect x="892.99" y="124.7" width="0.6" height="44.7" fill="#d85543"/><rect x="891.79" y="125.2" width="3" height="38.0" fill="#d85543"/><rect x="897.17" y="163.2" width="0.6" height="21.1" fill="#d85543"/><rect x="895.97" y="163.2" width="3" height="5.7" fill="#d85543"/><rect x="901.35" y="110.3" width="0.6" height="66.1" fill="#2d836c"/><rect x="900.15" y="112.8" width="3" height="56.1" fill="#2d836c"/><rect x="905.53" y="103.6" width="0.6" height="26.1" fill="#2d836c"/><rect x="904.33" y="106.1" width="3" height="6.7" fill="#2d836c"/><rect x="909.72" y="54.1" width="0.6" height="55.1" fill="#2d836c"/><rect x="908.52" y="58.3" width="3" height="47.8" fill="#2d836c"/><rect x="913.90" y="13.6" width="0.6" height="46.0" fill="#2d836c"/><rect x="912.70" y="15.4" width="3" height="42.9" fill="#2d836c"/><rect x="918.08" y="8.8" width="0.6" height="53.0" fill="#d85543"/><rect x="916.88" y="15.4" width="3" height="31.7" fill="#d85543"/><rect x="922.26" y="34.2" width="0.6" height="32.8" fill="#d85543"/><rect x="921.06" y="47.1" width="3" height="7.5" fill="#d85543"/><rect x="926.45" y="45.2" width="0.6" height="15.6" fill="#2d836c"/><rect x="925.25" y="53.3" width="3" height="1.3" fill="#2d836c"/><rect x="930.63" y="53.3" width="0.6" height="33.5" fill="#d85543"/><rect x="929.43" y="54.1" width="3" height="31.2" fill="#d85543"/><rect x="934.81" y="81.5" width="0.6" height="33.7" fill="#d85543"/><rect x="933.61" y="85.5" width="3" height="5.6" fill="#d85543"/><rect x="938.99" y="85.0" width="0.6" height="7.0" fill="#2d836c"/><rect x="937.79" y="86.6" width="3" height="4.5" fill="#2d836c"/><rect x="943.18" y="85.5" width="0.6" height="8.4" fill="#d85543"/><rect x="941.98" y="86.6" width="3" height="5.6" fill="#d85543"/><rect x="947.36" y="92.5" width="0.6" height="1.1" fill="#555555"/><rect x="946.16" y="92.6" width="3" height="1.0" fill="#555555"/><rect x="951.54" y="90.5" width="0.6" height="8.1" fill="#d85543"/><rect x="950.34" y="92.8" width="3" height="4.4" fill="#d85543"/><rect x="955.73" y="89.1" width="0.6" height="10.9" fill="#2d836c"/><rect x="954.53" y="89.8" width="3" height="7.4" fill="#2d836c"/><rect x="959.91" y="82.8" width="0.6" height="13.8" fill="#d85543"/><rect x="958.71" y="89.4" width="3" height="1.1" fill="#d85543"/><rect x="964.09" y="90.5" width="0.6" height="1.0" fill="#d85543"/><rect x="962.89" y="90.5" width="3" height="1.0" fill="#d85543"/></g>
<line x1="730.1" y1="101.7" x2="918.3" y2="8.8" stroke="#ff0000" stroke-width="2" shape-rendering="geometricPrecision"/>
<line x1="918.3" y1="8.8" x2="941.1273412271258" y2="-2.4681190223166602" stroke="#ff0000" stroke-width="2" stroke-dasharray="4.1 3.1" stroke-dashoffset="5" shape-rendering="geometricPrecision"/>
<line x1="822.5" y1="203.3" x2="897.5" y2="185.81506024096387" stroke="#008a00" stroke-width="2" shape-rendering="geometricPrecision"/>
<line x1="897.5" y1="185.81506024096387" x2="988" y2="164.71656626506024" stroke="#008a00" stroke-width="2" stroke-dasharray="4.1 3.1" stroke-dashoffset="4.7" shape-rendering="geometricPrecision"/>
<polyline points="0,365.47 2.37,365.78 6.55,366.32 10.74,366.61 14.92,367.50 19.10,365.73 23.28,365.19 27.47,363.91 31.65,364.95 35.83,366.96 40.01,367.96 44.20,369.04 48.38,370.43 52.56,371.44 56.75,371.88 60.93,372.01 65.11,371.63 69.29,370.97 73.48,370.75 77.66,370.59 81.84,370.38 86.02,370.09 90.21,369.56 94.39,369.55 98.57,369.68 102.75,370.19 106.94,370.93 111.12,371.51 115.30,372.49 119.49,374.79 123.67,377.10 127.85,380.57 132.03,382.49 136.22,383.54 140.40,384.92 144.58,385.94 148.76,386.55 152.95,386.75 157.13,386.09 161.31,385.16 165.50,383.95 169.68,382.65 173.86,381.33 178.04,380.11 182.23,379.30 186.41,378.09 190.59,376.57 194.77,375.18 198.96,373.78 203.14,372.76 207.32,372.16 211.50,371.39 215.69,370.27 219.87,369.37 224.05,369.21 228.24,369.77 232.42,370.18 236.60,370.29 240.78,370.09 244.97,369.51 249.15,369.03 253.33,368.62 257.51,367.87 261.70,367.07 265.88,365.48 270.06,364.22 274.25,362.77 278.43,361.88 282.61,360.65 286.79,359.50 290.98,358.70 295.16,357.49 299.34,356.90 303.52,357.19 307.71,357.53 311.89,357.44 316.07,357.31 320.26,357.32 324.44,356.55 328.62,356.11 332.80,356.62 336.99,356.08 341.17,355.51 345.35,355.34 349.53,355.17 353.72,355.12 357.90,354.73 362.08,354.65 366.26,354.57 370.45,354.13 374.63,353.93 378.81,353.64 383.00,353.36 387.18,353.53 391.36,354.19 395.54,356.18 399.73,358.30 403.91,359.51 408.09,359.85 412.27,360.39 416.46,360.47 420.64,360.84 424.82,360.98 429.01,360.89 433.19,359.99 437.37,359.87 441.55,359.58 445.74,359.49 449.92,359.51 454.10,359.51 458.28,359.51 462.47,359.49 466.65,359.35 470.83,359.08 475.02,358.42 479.20,357.97 483.38,357.53 487.56,357.53 491.75,357.93 495.93,358.19 500.11,359.64 504.29,360.57 508.48,362.06 512.66,365.23 516.84,369.53 521.02,372.94 525.21,376.54 529.39,379.64 533.57,381.84 537.76,382.54 541.94,382.78 546.12,382.68 550.30,382.40 554.49,382.01 558.67,381.67 562.85,381.20 567.03,380.46 571.22,380.49 575.40,380.01 579.58,379.51 583.77,379.84 587.95,379.71 592.13,379.34 596.31,378.02 600.50,376.31 604.68,374.66 608.86,373.08 613.04,371.25 617.23,369.39 621.41,367.27 625.59,365.32 629.77,364.61 633.96,363.67 638.14,362.74 642.32,361.20 646.51,359.96 650.69,359.04 654.87,358.20 659.05,357.61 663.24,357.23 667.42,357.32 671.60,357.78 675.78,357.88 679.97,357.82 684.15,357.83 688.33,357.82 692.52,356.92 696.70,355.29 700.88,353.88 705.06,353.31 709.25,352.24 713.43,350.41 717.61,348.14 721.79,346.57 725.98,345.17 730.16,343.74 734.34,342.88 738.53,344.00 742.71,344.66 746.89,345.48 751.07,346.39 755.26,347.39 759.44,348.24 763.62,348.85 767.80,349.01 771.99,349.19 776.17,349.74 780.35,350.60 784.53,351.28 788.72,352.29 792.90,352.52 797.08,353.22 801.27,353.36 805.45,353.98 809.63,353.86 813.81,354.22 818.00,356.37 822.18,358.06 826.36,358.62 830.54,358.47 834.73,358.87 838.91,359.55 843.09,359.72 847.28,359.70 851.46,358.77 855.64,358.68 859.82,358.97 864.01,359.26 868.19,359.47 872.37,359.60 876.55,359.44 880.74,358.72 884.92,358.93 889.10,359.10 893.29,360.98 897.47,362.72 901.65,361.62 905.83,360.46 910.02,357.48 914.20,353.31 918.38,351.54 922.56,350.62 926.75,349.97 930.93,351.01 935.11,352.21 939.29,353.07 943.48,354.10 947.66,355.05 951.84,356.05 956.03,356.58 960.21,357.10 964.39,357.59" fill="none" stroke="#5266f2" stroke-width="1.3" shape-rendering="geometricPrecision"/>
<polyline points="0,368.58 2.37,368.34 6.55,367.94 10.74,367.67 14.92,367.64 19.10,367.26 23.28,366.84 27.47,366.26 31.65,366.00 35.83,366.19 40.01,366.54 44.20,367.04 48.38,367.72 52.56,368.46 56.75,369.15 60.93,369.72 65.11,370.10 69.29,370.27 73.48,370.37 77.66,370.41 81.84,370.41 86.02,370.34 90.21,370.19 94.39,370.06 98.57,369.98 102.75,370.02 106.94,370.21 111.12,370.47 115.30,370.87 119.49,371.65 123.67,372.74 127.85,374.31 132.03,375.94 136.22,377.46 140.40,378.96 144.58,380.35 148.76,381.59 152.95,382.62 157.13,383.32 161.31,383.68 165.50,383.74 169.68,383.52 173.86,383.08 178.04,382.49 182.23,381.85 186.41,381.10 190.59,380.19 194.77,379.19 198.96,378.11 203.14,377.04 207.32,376.06 211.50,375.13 215.69,374.16 219.87,373.20 224.05,372.40 228.24,371.88 232.42,371.54 236.60,371.29 240.78,371.05 244.97,370.74 249.15,370.40 253.33,370.04 257.51,369.61 261.70,369.10 265.88,368.38 270.06,367.54 274.25,366.59 278.43,365.65 282.61,364.65 286.79,363.62 290.98,362.63 295.16,361.61 299.34,360.67 303.52,359.97 307.71,359.48 311.89,359.07 316.07,358.72 320.26,358.44 324.44,358.06 328.62,357.67 332.80,357.46 336.99,357.19 341.17,356.85 345.35,356.55 349.53,356.27 353.72,356.04 357.90,355.78 362.08,355.55 366.26,355.36 370.45,355.11 374.63,354.88 378.81,354.63 383.00,354.38 387.18,354.21 391.36,354.20 395.54,354.60 399.73,355.34 403.91,356.17 408.09,356.91 412.27,357.60 416.46,358.18 420.64,358.71 424.82,359.16 429.01,359.51 433.19,359.61 437.37,359.66 441.55,359.64 445.74,359.61 449.92,359.59 454.10,359.57 458.28,359.56 462.47,359.55 466.65,359.51 470.83,359.42 475.02,359.22 479.20,358.97 483.38,358.68 487.56,358.45 491.75,358.35 495.93,358.32 500.11,358.58 504.29,358.98 508.48,359.60 512.66,360.72 516.84,362.48 521.02,364.57 525.21,366.97 529.39,369.50 533.57,371.97 537.76,374.08 541.94,375.82 546.12,377.19 550.30,378.23 554.49,378.99 558.67,379.53 562.85,379.86 567.03,379.98 571.22,380.08 575.40,380.07 579.58,379.96 583.77,379.93 587.95,379.89 592.13,379.78 596.31,379.43 600.50,378.80 604.68,377.97 608.86,376.99 613.04,375.85 617.23,374.55 621.41,373.10 625.59,371.54 629.77,370.15 633.96,368.86 638.14,367.63 642.32,366.35 646.51,365.07 650.69,363.86 654.87,362.73 659.05,361.71 663.24,360.81 667.42,360.11 671.60,359.65 675.78,359.29 679.97,359.00 684.15,358.76 688.33,358.58 692.52,358.24 696.70,357.65 700.88,356.90 705.06,356.18 709.25,355.39 713.43,354.40 717.61,353.14 721.79,351.83 725.98,350.50 730.16,349.15 734.34,347.89 738.53,347.11 742.71,346.62 746.89,346.39 751.07,346.39 755.26,346.59 759.44,346.92 763.62,347.31 767.80,347.65 771.99,347.96 776.17,348.31 780.35,348.77 784.53,349.27 788.72,349.88 792.90,350.40 797.08,350.97 801.27,351.45 805.45,351.95 809.63,352.33 813.81,352.71 818.00,353.44 822.18,354.37 826.36,355.22 830.54,355.87 834.73,356.47 838.91,357.08 843.09,357.61 847.28,358.03 851.46,358.18 855.64,358.28 859.82,358.42 864.01,358.59 868.19,358.76 872.37,358.93 876.55,359.03 880.74,358.97 884.92,358.96 889.10,358.99 893.29,359.39 897.47,360.05 901.65,360.37 905.83,360.39 910.02,359.80 914.20,358.51 918.38,357.11 922.56,355.81 926.75,354.64 930.93,353.92 935.11,353.58 939.29,353.48 943.48,353.60 947.66,353.89 951.84,354.32 956.03,354.77 960.21,355.24 964.39,355.71" fill="none" stroke="#f5a066" stroke-width="1.3" shape-rendering="geometricPrecision"/>
<rect x="1" y="359.94" width="3" height="2.56" fill="#00ee00" shape-rendering="geometricPrecision"/>
<rect x="5" y="360.88" width="3" height="1.62" fill="#00ee00" shape-rendering="geometricPrecision"/>
<rect x="9" y="361.44" width="3" height="1.06" fill="#00ee00" shape-rendering="geometricPrecision"/>
<rect x="13" y="362.36" width="3" height="0.14" fill="#00ee00" shape-rendering="geometricPrecision"/>
<rect x="18" y="360.98" width="3" height="1.52" fill="#00ee00" shape-rendering="geometricPrecision"/>
<rect x="22" y="360.85" width="3" height="1.65" fill="#00ee00" shape-rendering="geometricPrecision"/>
<rect x="26" y="360.16" width="3" height="2.34" fill="#00ee00" shape-rendering="geometricPrecision"/>
<rect x="30" y="361.46" width="3" height="1.04" fill="#00ee00" shape-rendering="geometricPrecision"/>
<rect x="34" y="362.50" width="3" height="0.77" fill="#ff0000" shape-rendering="geometricPrecision"/>
<rect x="39" y="362.50" width="3" height="1.42" fill="#ff0000" shape-rendering="geometricPrecision"/>
<rect x="43" y="362.50" width="3" height="2.00" fill="#ff0000" shape-rendering="geometricPrecision"/>
<rect x="47" y="362.50" width="3" height="2.71" fill="#ff0000" shape-rendering="geometricPrecision"/>
<rect x="51" y="362.50" width="3" height="2.97" fill="#ff0000" shape-rendering="geometricPrecision"/>
<rect x="55" y="362.50" width="3" height="2.73" fill="#ff0000" shape-rendering="geometricPrecision"/>
<rect x="59" y="362.50" width="3" height="2.29" fill="#ff0000" shape-rendering="geometricPrecision"/>
<rect x="64" y="362.50" width="3" height="1.52" fill="#ff0000" shape-rendering="geometricPrecision"/>
<rect x="68" y="362.50" width="3" height="0.69" fill="#ff0000" shape-rendering="geometricPrecision"/>
<rect x="72" y="362.50" width="3" height="0.38" fill="#ff0000" shape-rendering="geometricPrecision"/>
<rect x="76" y="362.50" width="3" height="0.18" fill="#ff0000" shape-rendering="geometricPrecision"/>
<rect x="80" y="362.48" width="3" height="0.02" fill="#00ee00" shape-rendering="geometricPrecision"/>
<rect x="85" y="362.25" width="3" height="0.25" fill="#00ee00" shape-rendering="geometricPrecision"/>
<rect x="89" y="361.87" width="3" height="0.63" fill="#00ee00" shape-rendering="geometricPrecision"/>
<rect x="93" y="361.99" width="3" height="0.51" fill="#00ee00" shape-rendering="geometricPrecision"/>
<rect x="97" y="362.20" width="3" height="0.30" fill="#00ee00" shape-rendering="geometricPrecision"/>
<rect x="101" y="362.50" width="3" height="0.16" fill="#ff0000" shape-rendering="geometricPrecision"/>
<rect x="105" y="362.50" width="3" height="0.73" fill="#ff0000" shape-rendering="geometricPrecision"/>
<rect x="110" y="362.50" width="3" height="1.04" fill="#ff0000" shape-rendering="geometricPrecision"/>
<rect x="114" y="362.50" width="3" height="1.62" fill="#ff0000" shape-rendering="geometricPrecision"/>
<rect x="118" y="362.50" width="3" height="3.14" fill="#ff0000" shape-rendering="geometricPrecision"/>
<rect x="122" y="362.50" width="3" height="4.36" fill="#ff0000" shape-rendering="geometricPrecision"/>
<rect x="126" y="362.50" width="3" height="6.26" fill="#ff0000" shape-rendering="geometricPrecision"/>
<rect x="131" y="362.50" width="3" height="6.54" fill="#ff0000" shape-rendering="geometricPrecision"/>
<rect x="135" y="362.50" width="3" height="6.08" fill="#ff0000" shape-rendering="geometricPrecision"/>
<rect x="139" y="362.50" width="3" height="5.96" fill="#ff0000" shape-rendering="geometricPrecision"/>
<rect x="143" y="362.50" width="3" height="5.59" fill="#ff0000" shape-rendering="geometricPrecision"/>
<rect x="147" y="362.50" width="3" height="4.96" fill="#ff0000" shape-rendering="geometricPrecision"/>
<rect x="151" y="362.50" width="3" height="4.13" fill="#ff0000" shape-rendering="geometricPrecision"/>
<rect x="156" y="362.50" width="3" height="2.77" fill="#ff0000" shape-rendering="geometricPrecision"/>
<rect x="160" y="362.50" width="3" height="1.47" fill="#ff0000" shape-rendering="geometricPrecision"/>
<rect x="164" y="362.50" width="3" height="0.21" fill="#ff0000" shape-rendering="geometricPrecision"/>
<rect x="168" y="361.63" width="3" height="0.87" fill="#00ee00" shape-rendering="geometricPrecision"/>
<rect x="172" y="360.75" width="3" height="1.75" fill="#00ee00" shape-rendering="geometricPrecision"/>
<rect x="177" y="360.12" width="3" height="2.38" fill="#00ee00" shape-rendering="geometricPrecision"/>
<rect x="181" y="359.95" width="3" height="2.55" fill="#00ee00" shape-rendering="geometricPrecision"/>
<rect x="185" y="359.50" width="3" height="3.00" fill="#00ee00" shape-rendering="geometricPrecision"/>
<rect x="189" y="358.88" width="3" height="3.62" fill="#00ee00" shape-rendering="geometricPrecision"/>
<rect x="193" y="358.49" width="3" height="4.01" fill="#00ee00" shape-rendering="geometricPrecision"/>
<rect x="197" y="358.17" width="3" height="4.33" fill="#00ee00" shape-rendering="geometricPrecision"/>
<rect x="202" y="358.22" width="3" height="4.28" fill="#00ee00" shape-rendering="geometricPrecision"/>
<rect x="206" y="358.60" width="3" height="3.90" fill="#00ee00" shape-rendering="geometricPrecision"/>
<rect x="210" y="358.76" width="3" height="3.74" fill="#00ee00" shape-rendering="geometricPrecision"/>
<rect x="214" y="358.62" width="3" height="3.88" fill="#00ee00" shape-rendering="geometricPrecision"/>
<rect x="218" y="358.67" width="3" height="3.83" fill="#00ee00" shape-rendering="geometricPrecision"/>
<rect x="223" y="359.31" width="3" height="3.19" fill="#00ee00" shape-rendering="geometricPrecision"/>
<rect x="227" y="360.40" width="3" height="2.10" fill="#00ee00" shape-rendering="geometricPrecision"/>
<rect x="231" y="361.15" width="3" height="1.35" fill="#00ee00" shape-rendering="geometricPrecision"/>
<rect x="235" y="361.50" width="3" height="1.00" fill="#00ee00" shape-rendering="geometricPrecision"/>
<rect x="239" y="361.54" width="3" height="0.96" fill="#00ee00" shape-rendering="geometricPrecision"/>
<rect x="243" y="361.27" width="3" height="1.23" fill="#00ee00" shape-rendering="geometricPrecision"/>
<rect x="248" y="361.13" width="3" height="1.37" fill="#00ee00" shape-rendering="geometricPrecision"/>
<rect x="252" y="361.08" width="3" height="1.42" fill="#00ee00" shape-rendering="geometricPrecision"/>
<rect x="256" y="360.76" width="3" height="1.74" fill="#00ee00" shape-rendering="geometricPrecision"/>
<rect x="260" y="360.47" width="3" height="2.03" fill="#00ee00" shape-rendering="geometricPrecision"/>
<rect x="264" y="359.60" width="3" height="2.90" fill="#00ee00" shape-rendering="geometricPrecision"/>
<rect x="269" y="359.17" width="3" height="3.33" fill="#00ee00" shape-rendering="geometricPrecision"/>
<rect x="273" y="358.68" width="3" height="3.82" fill="#00ee00" shape-rendering="geometricPrecision"/>
<rect x="277" y="358.73" width="3" height="3.77" fill="#00ee00" shape-rendering="geometricPrecision"/>
<rect x="281" y="358.50" width="3" height="4.00" fill="#00ee00" shape-rendering="geometricPrecision"/>
<rect x="285" y="358.38" width="3" height="4.12" fill="#00ee00" shape-rendering="geometricPrecision"/>
<rect x="289" y="358.57" width="3" height="3.93" fill="#00ee00" shape-rendering="geometricPrecision"/>
<rect x="294" y="358.39" width="3" height="4.11" fill="#00ee00" shape-rendering="geometricPrecision"/>
<rect x="298" y="358.73" width="3" height="3.77" fill="#00ee00" shape-rendering="geometricPrecision"/>
<rect x="302" y="359.72" width="3" height="2.78" fill="#00ee00" shape-rendering="geometricPrecision"/>
<rect x="306" y="360.55" width="3" height="1.95" fill="#00ee00" shape-rendering="geometricPrecision"/>
<rect x="310" y="360.87" width="3" height="1.63" fill="#00ee00" shape-rendering="geometricPrecision"/>
<rect x="315" y="361.09" width="3" height="1.41" fill="#00ee00" shape-rendering="geometricPrecision"/>
<rect x="319" y="361.38" width="3" height="1.12" fill="#00ee00" shape-rendering="geometricPrecision"/>
<rect x="323" y="360.99" width="3" height="1.51" fill="#00ee00" shape-rendering="geometricPrecision"/>
<rect x="327" y="360.94" width="3" height="1.56" fill="#00ee00" shape-rendering="geometricPrecision"/>
<rect x="331" y="361.66" width="3" height="0.84" fill="#00ee00" shape-rendering="geometricPrecision"/>
<rect x="335" y="361.39" width="3" height="1.11" fill="#00ee00" shape-rendering="geometricPrecision"/>
<rect x="340" y="361.16" width="3" height="1.34" fill="#00ee00" shape-rendering="geometricPrecision"/>
<rect x="344" y="361.29" width="3" height="1.21" fill="#00ee00" shape-rendering="geometricPrecision"/>
<rect x="348" y="361.40" width="3" height="1.10" fill="#00ee00" shape-rendering="geometricPrecision"/>
<rect x="352" y="361.58" width="3" height="0.92" fill="#00ee00" shape-rendering="geometricPrecision"/>
<rect x="356" y="361.45" width="3" height="1.05" fill="#00ee00" shape-rendering="geometricPrecision"/>
<rect x="361" y="361.60" width="3" height="0.90" fill="#00ee00" shape-rendering="geometricPrecision"/>
<rect x="365" y="361.72" width="3" height="0.78" fill="#00ee00" shape-rendering="geometricPrecision"/>
<rect x="369" y="361.52" width="3" height="0.98" fill="#00ee00" shape-rendering="geometricPrecision"/>
<rect x="373" y="361.56" width="3" height="0.94" fill="#00ee00" shape-rendering="geometricPrecision"/>
<rect x="377" y="361.51" width="3" height="0.99" fill="#00ee00" shape-rendering="geometricPrecision"/>
<rect x="381" y="361.49" width="3" height="1.01" fill="#00ee00" shape-rendering="geometricPrecision"/>
<rect x="386" y="361.82" width="3" height="0.68" fill="#00ee00" shape-rendering="geometricPrecision"/>
<rect x="390" y="362.49" width="3" height="0.01" fill="#00ee00" shape-rendering="geometricPrecision"/>
<rect x="394" y="362.50" width="3" height="1.58" fill="#ff0000" shape-rendering="geometricPrecision"/>
<rect x="398" y="362.50" width="3" height="2.96" fill="#ff0000" shape-rendering="geometricPrecision"/>
<rect x="402" y="362.50" width="3" height="3.34" fill="#ff0000" shape-rendering="geometricPrecision"/>
<rect x="407" y="362.50" width="3" height="2.94" fill="#ff0000" shape-rendering="geometricPrecision"/>
<rect x="411" y="362.50" width="3" height="2.78" fill="#ff0000" shape-rendering="geometricPrecision"/>
<rect x="415" y="362.50" width="3" height="2.30" fill="#ff0000" shape-rendering="geometricPrecision"/>
<rect x="419" y="362.50" width="3" height="2.13" fill="#ff0000" shape-rendering="geometricPrecision"/>
<rect x="423" y="362.50" width="3" height="1.82" fill="#ff0000" shape-rendering="geometricPrecision"/>
<rect x="428" y="362.50" width="3" height="1.38" fill="#ff0000" shape-rendering="geometricPrecision"/>
<rect x="432" y="362.50" width="3" height="0.39" fill="#ff0000" shape-rendering="geometricPrecision"/>
<rect x="436" y="362.50" width="3" height="0.21" fill="#ff0000" shape-rendering="geometricPrecision"/>
<rect x="440" y="362.44" width="3" height="0.06" fill="#00ee00" shape-rendering="geometricPrecision"/>
<rect x="444" y="362.38" width="3" height="0.12" fill="#00ee00" shape-rendering="geometricPrecision"/>
<rect x="448" y="362.42" width="3" height="0.08" fill="#00ee00" shape-rendering="geometricPrecision"/>
<rect x="453" y="362.43" width="3" height="0.07" fill="#00ee00" shape-rendering="geometricPrecision"/>
<rect x="457" y="362.45" width="3" height="0.05" fill="#00ee00" shape-rendering="geometricPrecision"/>
<rect x="461" y="362.44" width="3" height="0.06" fill="#00ee00" shape-rendering="geometricPrecision"/>
<rect x="465" y="362.34" width="3" height="0.16" fill="#00ee00" shape-rendering="geometricPrecision"/>
<rect x="469" y="362.16" width="3" height="0.34" fill="#00ee00" shape-rendering="geometricPrecision"/>
<rect x="474" y="361.69" width="3" height="0.81" fill="#00ee00" shape-rendering="geometricPrecision"/>
<rect x="478" y="361.50" width="3" height="1.00" fill="#00ee00" shape-rendering="geometricPrecision"/>
<rect x="482" y="361.35" width="3" height="1.15" fill="#00ee00" shape-rendering="geometricPrecision"/>
<rect x="486" y="361.58" width="3" height="0.92" fill="#00ee00" shape-rendering="geometricPrecision"/>
<rect x="490" y="362.08" width="3" height="0.42" fill="#00ee00" shape-rendering="geometricPrecision"/>
<rect x="494" y="362.37" width="3" height="0.13" fill="#00ee00" shape-rendering="geometricPrecision"/>
<rect x="499" y="362.50" width="3" height="1.06" fill="#ff0000" shape-rendering="geometricPrecision"/>
<rect x="503" y="362.50" width="3" height="1.59" fill="#ff0000" shape-rendering="geometricPrecision"/>
<rect x="507" y="362.50" width="3" height="2.46" fill="#ff0000" shape-rendering="geometricPrecision"/>
<rect x="511" y="362.50" width="3" height="4.50" fill="#ff0000" shape-rendering="geometricPrecision"/>
<rect x="515" y="362.50" width="3" height="7.05" fill="#ff0000" shape-rendering="geometricPrecision"/>
<rect x="520" y="362.50" width="3" height="8.36" fill="#ff0000" shape-rendering="geometricPrecision"/>
<rect x="524" y="362.50" width="3" height="9.57" fill="#ff0000" shape-rendering="geometricPrecision"/>
<rect x="528" y="362.50" width="3" height="10.14" fill="#ff0000" shape-rendering="geometricPrecision"/>
<rect x="532" y="362.50" width="3" height="9.87" fill="#ff0000" shape-rendering="geometricPrecision"/>
<rect x="536" y="362.50" width="3" height="8.45" fill="#ff0000" shape-rendering="geometricPrecision"/>
<rect x="540" y="362.50" width="3" height="6.96" fill="#ff0000" shape-rendering="geometricPrecision"/>
<rect x="545" y="362.50" width="3" height="5.48" fill="#ff0000" shape-rendering="geometricPrecision"/>
<rect x="549" y="362.50" width="3" height="4.16" fill="#ff0000" shape-rendering="geometricPrecision"/>
<rect x="553" y="362.50" width="3" height="3.02" fill="#ff0000" shape-rendering="geometricPrecision"/>
<rect x="557" y="362.50" width="3" height="2.15" fill="#ff0000" shape-rendering="geometricPrecision"/>
<rect x="561" y="362.50" width="3" height="1.34" fill="#ff0000" shape-rendering="geometricPrecision"/>
<rect x="566" y="362.50" width="3" height="0.48" fill="#ff0000" shape-rendering="geometricPrecision"/>
<rect x="570" y="362.50" width="3" height="0.40" fill="#ff0000" shape-rendering="geometricPrecision"/>
<rect x="574" y="362.44" width="3" height="0.06" fill="#00ee00" shape-rendering="geometricPrecision"/>
<rect x="578" y="362.05" width="3" height="0.45" fill="#00ee00" shape-rendering="geometricPrecision"/>
<rect x="582" y="362.40" width="3" height="0.10" fill="#00ee00" shape-rendering="geometricPrecision"/>
<rect x="586" y="362.32" width="3" height="0.18" fill="#00ee00" shape-rendering="geometricPrecision"/>
<rect x="591" y="362.06" width="3" height="0.44" fill="#00ee00" shape-rendering="geometricPrecision"/>
<rect x="595" y="361.10" width="3" height="1.40" fill="#00ee00" shape-rendering="geometricPrecision"/>
<rect x="599" y="360.00" width="3" height="2.50" fill="#00ee00" shape-rendering="geometricPrecision"/>
<rect x="603" y="359.19" width="3" height="3.31" fill="#00ee00" shape-rendering="geometricPrecision"/>
<rect x="607" y="358.58" width="3" height="3.92" fill="#00ee00" shape-rendering="geometricPrecision"/>
<rect x="612" y="357.90" width="3" height="4.60" fill="#00ee00" shape-rendering="geometricPrecision"/>
<rect x="616" y="357.33" width="3" height="5.17" fill="#00ee00" shape-rendering="geometricPrecision"/>
<rect x="620" y="356.67" width="3" height="5.83" fill="#00ee00" shape-rendering="geometricPrecision"/>
<rect x="624" y="356.28" width="3" height="6.22" fill="#00ee00" shape-rendering="geometricPrecision"/>
<rect x="628" y="356.96" width="3" height="5.54" fill="#00ee00" shape-rendering="geometricPrecision"/>
<rect x="632" y="357.31" width="3" height="5.19" fill="#00ee00" shape-rendering="geometricPrecision"/>
<rect x="637" y="357.60" width="3" height="4.90" fill="#00ee00" shape-rendering="geometricPrecision"/>
<rect x="641" y="357.36" width="3" height="5.14" fill="#00ee00" shape-rendering="geometricPrecision"/>
<rect x="645" y="357.39" width="3" height="5.11" fill="#00ee00" shape-rendering="geometricPrecision"/>
<rect x="649" y="357.67" width="3" height="4.83" fill="#00ee00" shape-rendering="geometricPrecision"/>
<rect x="653" y="357.97" width="3" height="4.53" fill="#00ee00" shape-rendering="geometricPrecision"/>
<rect x="658" y="358.40" width="3" height="4.10" fill="#00ee00" shape-rendering="geometricPrecision"/>
<rect x="662" y="358.92" width="3" height="3.58" fill="#00ee00" shape-rendering="geometricPrecision"/>
<rect x="666" y="359.71" width="3" height="2.79" fill="#00ee00" shape-rendering="geometricPrecision"/>
<rect x="670" y="360.63" width="3" height="1.87" fill="#00ee00" shape-rendering="geometricPrecision"/>
<rect x="674" y="361.08" width="3" height="1.42" fill="#00ee00" shape-rendering="geometricPrecision"/>
<rect x="678" y="361.32" width="3" height="1.18" fill="#00ee00" shape-rendering="geometricPrecision"/>
<rect x="683" y="361.56" width="3" height="0.94" fill="#00ee00" shape-rendering="geometricPrecision"/>
<rect x="687" y="361.75" width="3" height="0.75" fill="#00ee00" shape-rendering="geometricPrecision"/>
<rect x="691" y="361.17" width="3" height="1.33" fill="#00ee00" shape-rendering="geometricPrecision"/>
<rect x="695" y="360.14" width="3" height="2.36" fill="#00ee00" shape-rendering="geometricPrecision"/>
<rect x="699" y="359.48" width="3" height="3.02" fill="#00ee00" shape-rendering="geometricPrecision"/>
<rect x="704" y="359.63" width="3" height="2.87" fill="#00ee00" shape-rendering="geometricPrecision"/>
<rect x="708" y="359.34" width="3" height="3.16" fill="#00ee00" shape-rendering="geometricPrecision"/>
<rect x="712" y="358.51" width="3" height="3.99" fill="#00ee00" shape-rendering="geometricPrecision"/>
<rect x="716" y="357.49" width="3" height="5.01" fill="#00ee00" shape-rendering="geometricPrecision"/>
<rect x="720" y="357.24" width="3" height="5.26" fill="#00ee00" shape-rendering="geometricPrecision"/>
<rect x="724" y="357.17" width="3" height="5.33" fill="#00ee00" shape-rendering="geometricPrecision"/>
<rect x="729" y="357.10" width="3" height="5.40" fill="#00ee00" shape-rendering="geometricPrecision"/>
<rect x="733" y="357.49" width="3" height="5.01" fill="#00ee00" shape-rendering="geometricPrecision"/>
<rect x="737" y="359.39" width="3" height="3.11" fill="#00ee00" shape-rendering="geometricPrecision"/>
<rect x="741" y="360.53" width="3" height="1.97" fill="#00ee00" shape-rendering="geometricPrecision"/>
<rect x="745" y="361.59" width="3" height="0.91" fill="#00ee00" shape-rendering="geometricPrecision"/>
<rect x="750" y="362.49" width="3" height="0.01" fill="#00ee00" shape-rendering="geometricPrecision"/>
<rect x="754" y="362.50" width="3" height="0.80" fill="#ff0000" shape-rendering="geometricPrecision"/>
<rect x="758" y="362.50" width="3" height="1.32" fill="#ff0000" shape-rendering="geometricPrecision"/>
<rect x="762" y="362.50" width="3" height="1.54" fill="#ff0000" shape-rendering="geometricPrecision"/>
<rect x="766" y="362.50" width="3" height="1.36" fill="#ff0000" shape-rendering="geometricPrecision"/>
<rect x="770" y="362.50" width="3" height="1.24" fill="#ff0000" shape-rendering="geometricPrecision"/>
<rect x="775" y="362.50" width="3" height="1.42" fill="#ff0000" shape-rendering="geometricPrecision"/>
<rect x="779" y="362.50" width="3" height="1.83" fill="#ff0000" shape-rendering="geometricPrecision"/>
<rect x="783" y="362.50" width="3" height="2.00" fill="#ff0000" shape-rendering="geometricPrecision"/>
<rect x="787" y="362.50" width="3" height="2.42" fill="#ff0000" shape-rendering="geometricPrecision"/>
<rect x="791" y="362.50" width="3" height="2.11" fill="#ff0000" shape-rendering="geometricPrecision"/>
<rect x="796" y="362.50" width="3" height="2.26" fill="#ff0000" shape-rendering="geometricPrecision"/>
<rect x="800" y="362.50" width="3" height="1.91" fill="#ff0000" shape-rendering="geometricPrecision"/>
<rect x="804" y="362.50" width="3" height="2.03" fill="#ff0000" shape-rendering="geometricPrecision"/>
<rect x="808" y="362.50" width="3" height="1.52" fill="#ff0000" shape-rendering="geometricPrecision"/>
<rect x="812" y="362.50" width="3" height="1.51" fill="#ff0000" shape-rendering="geometricPrecision"/>
<rect x="816" y="362.50" width="3" height="2.93" fill="#ff0000" shape-rendering="geometricPrecision"/>
<rect x="821" y="362.50" width="3" height="3.69" fill="#ff0000" shape-rendering="geometricPrecision"/>
<rect x="825" y="362.50" width="3" height="3.40" fill="#ff0000" shape-rendering="geometricPrecision"/>
<rect x="829" y="362.50" width="3" height="2.60" fill="#ff0000" shape-rendering="geometricPrecision"/>
<rect x="833" y="362.50" width="3" height="2.40" fill="#ff0000" shape-rendering="geometricPrecision"/>
<rect x="837" y="362.50" width="3" height="2.47" fill="#ff0000" shape-rendering="geometricPrecision"/>
<rect x="842" y="362.50" width="3" height="2.11" fill="#ff0000" shape-rendering="geometricPrecision"/>
<rect x="846" y="362.50" width="3" height="1.67" fill="#ff0000" shape-rendering="geometricPrecision"/>
<rect x="850" y="362.50" width="3" height="0.59" fill="#ff0000" shape-rendering="geometricPrecision"/>
<rect x="854" y="362.50" width="3" height="0.41" fill="#ff0000" shape-rendering="geometricPrecision"/>
<rect x="858" y="362.50" width="3" height="0.55" fill="#ff0000" shape-rendering="geometricPrecision"/>
<rect x="863" y="362.50" width="3" height="0.68" fill="#ff0000" shape-rendering="geometricPrecision"/>
<rect x="867" y="362.50" width="3" height="0.71" fill="#ff0000" shape-rendering="geometricPrecision"/>
<rect x="871" y="362.50" width="3" height="0.67" fill="#ff0000" shape-rendering="geometricPrecision"/>
<rect x="875" y="362.50" width="3" height="0.41" fill="#ff0000" shape-rendering="geometricPrecision"/>
<rect x="879" y="362.25" width="3" height="0.25" fill="#00ee00" shape-rendering="geometricPrecision"/>
<rect x="883" y="362.47" width="3" height="0.03" fill="#00ee00" shape-rendering="geometricPrecision"/>
<rect x="888" y="362.50" width="3" height="0.11" fill="#ff0000" shape-rendering="geometricPrecision"/>
<rect x="892" y="362.50" width="3" height="1.59" fill="#ff0000" shape-rendering="geometricPrecision"/>
<rect x="896" y="362.50" width="3" height="2.67" fill="#ff0000" shape-rendering="geometricPrecision"/>
<rect x="900" y="362.50" width="3" height="1.25" fill="#ff0000" shape-rendering="geometricPrecision"/>
<rect x="904" y="362.50" width="3" height="0.08" fill="#ff0000" shape-rendering="geometricPrecision"/>
<rect x="909" y="360.17" width="3" height="2.33" fill="#00ee00" shape-rendering="geometricPrecision"/>
<rect x="913" y="357.30" width="3" height="5.20" fill="#00ee00" shape-rendering="geometricPrecision"/>
<rect x="917" y="356.93" width="3" height="5.57" fill="#00ee00" shape-rendering="geometricPrecision"/>
<rect x="921" y="357.30" width="3" height="5.20" fill="#00ee00" shape-rendering="geometricPrecision"/>
<rect x="925" y="357.82" width="3" height="4.68" fill="#00ee00" shape-rendering="geometricPrecision"/>
<rect x="929" y="359.59" width="3" height="2.91" fill="#00ee00" shape-rendering="geometricPrecision"/>
<rect x="934" y="361.14" width="3" height="1.36" fill="#00ee00" shape-rendering="geometricPrecision"/>
<rect x="938" y="362.10" width="3" height="0.40" fill="#00ee00" shape-rendering="geometricPrecision"/>
<rect x="942" y="362.50" width="3" height="0.50" fill="#ff0000" shape-rendering="geometricPrecision"/>
<rect x="946" y="362.50" width="3" height="1.16" fill="#ff0000" shape-rendering="geometricPrecision"/>
<rect x="950" y="362.50" width="3" height="1.73" fill="#ff0000" shape-rendering="geometricPrecision"/>
<rect x="955" y="362.50" width="3" height="1.81" fill="#ff0000" shape-rendering="geometricPrecision"/>
<rect x="959" y="362.50" width="3" height="1.86" fill="#ff0000" shape-rendering="geometricPrecision"/>
<rect x="963" y="362.50" width="3" height="1.88" fill="#ff0000" shape-rendering="geometricPrecision"/>
<rect x="0" y="394" width="964" height="14" fill="#7ff77f"/>
<line x1="0" y1="407.5" x2="964" y2="407.5" stroke="#3a7a3a" stroke-width="1" stroke-dasharray="5 1"/>
<rect x="964" y="394" width="1" height="14" fill="#3a7a3a"/>
<rect x="0" y="424" width="964" height="13" fill="#fc7b7b"/>
<line x1="0" y1="424.5" x2="964" y2="424.5" stroke="#9e4545" stroke-width="1" stroke-dasharray="5 1"/>
<rect x="964" y="424" width="1" height="13" fill="#9e4545"/>
<rect x="61" y="394" width="1" height="43" fill="#000" opacity="0.05"/>
<rect x="161" y="394" width="1" height="43" fill="#000" opacity="0.05"/>
<rect x="261" y="394" width="1" height="43" fill="#000" opacity="0.05"/>
<rect x="357" y="394" width="1" height="43" fill="#000" opacity="0.05"/>
<rect x="458" y="394" width="1" height="43" fill="#000" opacity="0.05"/>
<rect x="558" y="394" width="1" height="43" fill="#000" opacity="0.05"/>
<rect x="658" y="394" width="1" height="43" fill="#000" opacity="0.05"/>
<rect x="759" y="394" width="1" height="43" fill="#000" opacity="0.05"/>
<rect x="855" y="394" width="1" height="43" fill="#000" opacity="0.05"/>
<rect x="955" y="394" width="1" height="43" fill="#000" opacity="0.05"/>
<rect x="0" y="437" width="989" height="1" fill="#e3e6ee"/>
<polyline points="0,414.45 2.37,416.31 6.55,419.41 10.74,419.04 14.92,421.07 19.10,413.20 23.28,415.64 27.47,413.60 31.65,418.32 35.83,420.46 40.01,419.13 44.20,419.77 48.38,420.85 52.56,420.85 56.75,420.11 60.93,419.78 65.11,418.56 69.29,417.77 73.48,418.76 77.66,419.04 81.84,419.06 86.02,418.89 90.21,417.99 94.39,419.52 98.57,420.19 102.75,421.55 106.94,422.69 111.12,422.91 115.30,424.45 119.49,427.38 123.67,428.23 127.85,430.11 132.03,427.61 136.22,426.69 140.40,427.67 144.58,427.90 148.76,427.99 152.95,427.99 157.13,425.33 161.31,424.66 165.50,423.59 169.68,423.05 173.86,422.67 178.04,422.75 182.23,423.69 186.41,421.55 190.59,419.44 194.77,419.28 198.96,418.39 203.14,419.19 207.32,420.45 211.50,419.30 215.69,417.01 219.87,417.30 224.05,419.96 228.24,422.55 232.42,422.71 236.60,421.87 240.78,420.65 244.97,418.66 249.15,418.89 253.33,419.05 257.51,416.78 261.70,415.95 265.88,411.44 270.06,411.58 274.25,409.80 278.43,411.35 282.61,409.25 286.79,408.56 290.98,409.01 295.16,406.91 299.34,408.91 303.52,412.92 307.71,413.23 311.89,411.50 316.07,411.06 320.26,411.34 324.44,408.24 328.62,408.82 332.80,413.36 336.99,409.84 341.17,409.20 345.35,410.20 349.53,409.84 353.72,409.84 357.90,408.36 362.08,409.26 366.26,408.87 370.45,407.29 374.63,407.69 378.81,406.89 383.00,406.43 387.18,408.54 391.36,411.56 395.54,418.28 399.73,420.01 403.91,417.66 408.09,414.93 412.27,415.93 416.46,414.49 420.64,415.63 424.82,414.95 429.01,414.03 433.19,410.96 437.37,413.48 441.55,412.69 445.74,413.21 449.92,413.42 454.10,413.24 458.28,413.10 462.47,412.82 466.65,412.04 470.83,411.16 475.02,409.02 479.20,409.25 483.38,408.66 487.56,410.87 491.75,413.29 495.93,412.70 500.11,419.13 504.29,417.77 508.48,420.67 512.66,425.67 516.84,428.33 521.02,428.45 525.21,429.59 529.39,430.00 533.57,429.81 537.76,426.03 541.94,425.70 546.12,425.39 550.30,425.45 554.49,425.56 558.67,425.96 562.85,425.96 567.03,425.03 571.22,426.79 575.40,425.04 579.58,425.19 583.77,427.13 587.95,425.99 592.13,425.51 596.31,420.78 600.50,418.36 604.68,417.70 608.86,416.99 613.04,414.95 617.23,413.63 621.41,411.54 625.59,410.73 629.77,414.63 633.96,413.33 638.14,412.67 642.32,410.14 646.51,409.98 650.69,410.09 654.87,409.59 659.05,409.70 663.24,409.86 667.42,411.94 671.60,413.82 675.78,412.37 679.97,411.57 684.15,411.57 688.33,411.25 692.52,407.52 696.70,404.89 700.88,404.41 705.06,407.25 709.25,405.45 713.43,403.38 717.61,401.99 721.79,402.29 725.98,401.80 730.16,401.15 734.34,401.39 738.53,409.44 742.71,408.46 746.89,408.94 751.07,409.24 755.26,409.77 759.44,409.45 763.62,408.83 767.80,407.54 771.99,407.27 776.17,408.76 780.35,410.44 784.53,409.95 788.72,412.00 792.90,409.58 797.08,411.78 801.27,410.03 805.45,412.12 809.63,409.85 813.81,411.59 818.00,418.02 822.18,417.78 826.36,414.99 830.54,413.10 834.73,414.71 838.91,415.77 843.09,414.48 847.28,413.92 851.46,411.19 855.64,413.38 859.82,414.45 864.01,414.57 868.19,414.34 872.37,414.14 876.55,413.03 880.74,410.96 884.92,414.09 889.10,413.94 893.29,419.60 897.47,420.24 901.65,412.83 905.83,412.16 910.02,408.31 914.20,405.87 918.38,409.59 922.56,410.40 926.75,410.31 930.93,413.69 935.11,414.25 939.29,413.85 943.48,414.45 947.66,414.55 951.84,415.03 956.03,414.19 960.21,414.28 964.39,414.37" fill="none" stroke="#5266f2" stroke-width="1.3" shape-rendering="geometricPrecision"/></svg>
<div class="l" style="left:994px;top:11.6px">74.500</div>
<div class="l" style="left:994px;top:36.0px">74.000</div>
<div class="l" style="left:994px;top:60.5px">73.500</div>
<div class="l" style="left:994px;top:84.9px">73.000</div>
<div class="l" style="left:994px;top:109.4px">72.500</div>
<div class="l" style="left:994px;top:133.9px">72.000</div>
<div class="l" style="left:994px;top:158.3px">71.500</div>
<div class="l" style="left:994px;top:182.8px">71.000</div>
<div class="l" style="left:994px;top:207.3px">70.500</div>
<div class="l" style="left:994px;top:231.7px">70.000</div>
<div class="l" style="left:994px;top:256.2px">69.500</div>
<div class="l" style="left:994px;top:280.7px">69.000</div>
<div class="l" style="left:994px;top:305.1px">68.500</div>
<div class="l" style="left:994px;top:329.6px">68.000</div>
<div class="l" style="left:994px;top:358.6px">0.000</div>
<div class="l" style="left:994px;top:411.6px">50.000</div>
<div class="l" style="left:994px;top:433.1px">0.000</div>
<div class="l" style="left:41px;width:40px;text-align:center;transform-origin:50% 0;top:441.8px;color:#6a6a6a">6</div>
<div class="l" style="left:141.5px;width:40px;text-align:center;transform-origin:50% 0;top:441.8px;color:#6a6a6a">7</div>
<div class="l" style="left:241.5px;width:40px;text-align:center;transform-origin:50% 0;top:441.8px;color:#6a6a6a">8</div>
<div class="l" style="left:338px;width:40px;text-align:center;transform-origin:50% 0;top:441.8px;color:#6a6a6a">11</div>
<div class="l" style="left:438.5px;width:40px;text-align:center;transform-origin:50% 0;top:441.8px;color:#6a6a6a">12</div>
<div class="l" style="left:538.5px;width:40px;text-align:center;transform-origin:50% 0;top:441.8px;color:#6a6a6a">13</div>
<div class="l" style="left:639px;width:40px;text-align:center;transform-origin:50% 0;top:441.8px;color:#6a6a6a">14</div>
<div class="l" style="left:739.5px;width:40px;text-align:center;transform-origin:50% 0;top:441.8px;color:#6a6a6a">15</div>
<div class="l" style="left:835.6px;width:40px;text-align:center;transform-origin:50% 0;top:441.8px;color:#6a6a6a">18</div>
<div class="l" style="left:936px;width:40px;text-align:center;transform-origin:50% 0;top:441.8px;color:#6a6a6a">19</div>
<svg width="1024" height="451" style="position:absolute;left:0;top:0"><polygon points="991,91.5 994,87 1019,87 1019,96 994,96" fill="#2a4874"/></svg>
<div class="l" style="left:993.6px;top:87.8px;color:#fff;letter-spacing:0px;-webkit-text-stroke:0.1px #fff">72.940</div>
</div></body></html>
